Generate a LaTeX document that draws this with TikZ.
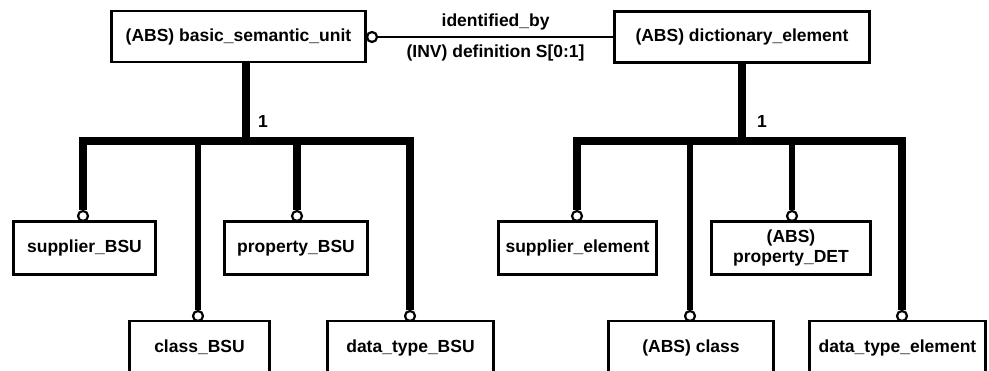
\documentclass[tikz,border=0pt]{standalone}
\usepackage{fontspec}
\setmainfont{Liberation Sans}
\begin{document}
\begin{tikzpicture}[x=1pt,y=-1pt,
  ent/.style={draw,line width=2.8pt,fill=white,inner sep=0pt,align=center,
    font=\bfseries\fontsize{17.5}{20}\selectfont},
  ring/.style={draw,circle,line width=2.2pt,fill=white,inner sep=0pt,minimum size=10pt},
  thick line/.style={line width=7.5pt},
  mid line/.style={line width=6.5pt},
  rel/.style={line width=2.5pt},
  lbl/.style={font=\bfseries\fontsize{17.5}{20}\selectfont,inner sep=0pt}]
\useasboundingbox (0,0) rectangle (989,371);
\clip (0,0) rectangle (989,371);
\fill[white] (0,0) rectangle (989,371);
% top entities
\node[ent,minimum width=254pt,minimum height=51pt] (bsu) at (238.5,36.5) {(ABS) basic\_semantic\_unit};
\node[ent,minimum width=255pt,minimum height=51pt] (dict) at (742,37) {(ABS) dictionary\_element};
% relation
\node[ring] (rt) at (372,37) {};
\draw[rel] (rt.east) -- (dict.west)
  node[lbl,pos=0.5,yshift=15pt] (idby) {identified\_by}
  node[lbl,pos=0.5,yshift=-16pt] (inv) {(INV) definition S[0:1]};
% left subtypes
\node[ent,minimum width=142pt,minimum height=53pt] (sbsu) at (84.5,248) {supplier\_BSU};
\node[ent,minimum width=143pt,minimum height=53pt] (pbsu) at (296,248) {property\_BSU};
\node[ent,minimum width=140pt,minimum height=53pt] (cbsu) at (199.5,347.5) {class\_BSU};
\node[ent,minimum width=166pt,minimum height=53pt] (dbsu) at (410.5,347.5) {data\_type\_BSU};
% right subtypes
\node[ent,minimum width=158pt,minimum height=53pt] (sel) at (577.5,248) {supplier\_element};
\node[ent,minimum width=159pt,minimum height=53pt] (pdet) at (791,248) {(ABS)\\property\_DET};
\node[ent,minimum width=165pt,minimum height=53pt] (acls) at (691,347.5) {(ABS) class};
\node[ent,minimum width=176pt,minimum height=53pt] (dte) at (897.5,347.5) {data\_type\_element};
% rings
\node[ring] (r1) at (83,216) {};
\node[ring] (r2) at (297,216) {};
\node[ring] (r3) at (198,316) {};
\node[ring] (r4) at (410,316) {};
\node[ring] (r5) at (577,216) {};
\node[ring] (r6) at (792,216) {};
\node[ring] (r7) at (690,316) {};
\node[ring] (r8) at (902,316) {};
% junctions
\coordinate (jl) at (246,141);
\coordinate (jr) at (742,141);
\draw[thick line] (bsu.south -| jl) -- (jl);
\draw[thick line] (dict.south -| jr) -- (jr);
\draw[thick line] (jl) -| (r1.north);
\draw[thick line] (jl) -| (r4.north);
\draw[mid line] (jl -| r3) -- (r3.north);
\draw[thick line] (jl -| r2) -- (r2.north);
\draw[thick line] (jr) -| (r5.north);
\draw[thick line] (jr) -| (r8.north);
\draw[mid line] (jr -| r7) -- (r7.north);
\draw[mid line] (jr -| r6) -- (r6.north);
\node[lbl] (n1) at (263,121) {1};
\node[lbl] (n2) at (762,121) {1};
\end{tikzpicture}
\end{document}
